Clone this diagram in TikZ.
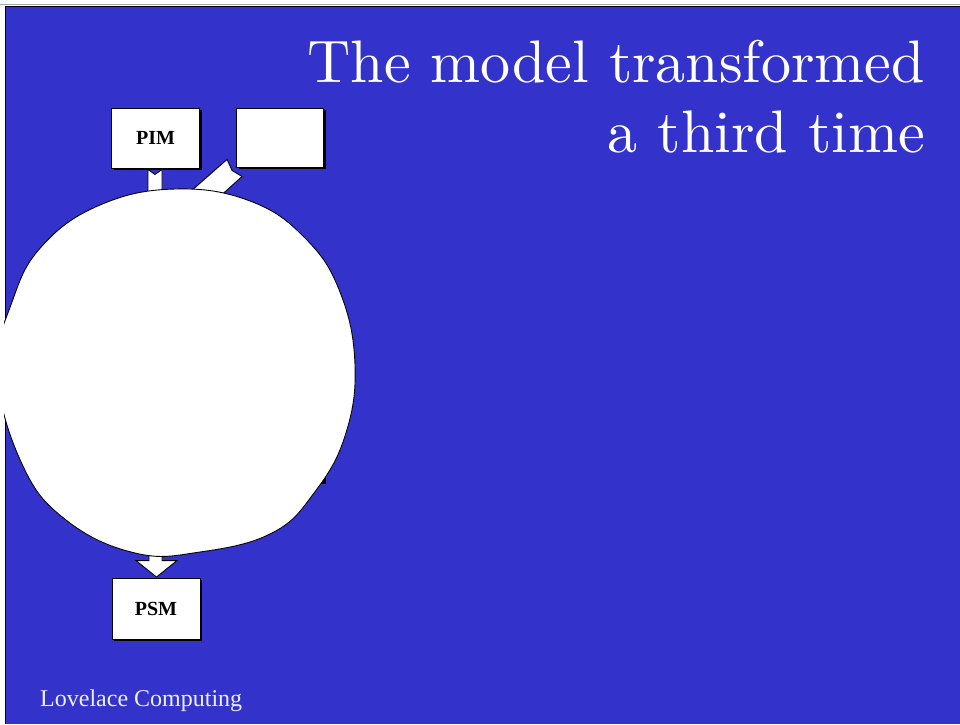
\documentclass[tikz,border=0pt]{standalone}
\usepackage{fontspec}
\newfontfamily\timesfont{Liberation Serif}
\newfontfamily\titlefont{lmroman10-regular}[Extension=.otf]
\usetikzlibrary{calc, shadows}

\definecolor{slideblue}{RGB}{51,51,204}
\definecolor{footwhite}{RGB}{238,238,250}

\tikzset{
    modelbox/.style={draw, fill=white, line width=0.9pt, inner sep=0pt,
        minimum width=88pt, minimum height=60pt,
        font=\timesfont\bfseries\fontsize{20}{20}\selectfont,
        drop shadow={shadow xshift=2pt, shadow yshift=-2pt, fill=black, opacity=1}},
    blockarrow/.style={draw, fill=white, line width=0.9pt, line join=miter}
}

\begin{document}
\begin{tikzpicture}[x=1pt, y=-1pt]
    \useasboundingbox (0, 0) rectangle (960, 724);

    % slide background and frame
    \fill[white] (0, 0) rectangle (960, 724);
    \fill[slideblue] (5, 6) rectangle (960, 724);
    \draw[gray!70, line width=0.8pt] (0, 4) -- (960, 4);
    \draw[black, line width=0.9pt] (5, 724) -- (5, 6) -- (960, 6);

    % boxes
    \node[modelbox] (pim) at (155.5, 138) {PIM};
    \node[modelbox, minimum width=87pt, minimum height=59pt] (blank) at (280, 137.5) {};
    \node[modelbox, minimum height=61pt] (psm) at (156, 608.5) {PSM};

    % box hidden behind the cloud
    \fill[black] (250, 400) rectangle (326, 484);

    % block arrows (ends hidden by the cloud)
    \draw[blockarrow] ($(pim.south)+(-7.5, 1)$) -- ($(pim.south)+(-7.5, 40)$)
        -- ($(pim.south)+(6.5, 40)$) -- ($(pim.south)+(6.5, 1)$)
        -- ($(pim.south)+(-0.5, 6)$) -- cycle;
    \draw[blockarrow] ($(blank.south west)+(-9, -8)$) -- ($(blank.south west)+(-4, 3)$)
        -- ($(blank.south west)+(6, 9)$) -- ($(blank.south west)+(-34, 45)$)
        -- ($(blank.south west)+(-50, 28)$) -- cycle;
    \draw[blockarrow] ($(psm.north)+(-7, -45)$) -- ($(psm.north)+(-7, -17)$)
        -- ($(psm.north)+(-20, -17)$) -- ($(psm.north)+(0.5, -0.5)$)
        -- ($(psm.north)+(21, -17)$) -- ($(psm.north)+(6, -17)$)
        -- ($(psm.north)+(6, -45)$) -- cycle;

    % the cloud
    \begin{scope}
        \clip (4, 0) rectangle (960, 724);
        \draw[fill=white, line width=0.9pt] plot[smooth cycle, tension=0.7] coordinates {
            (175, 189) (250, 201) (305, 238) (340, 292) (355, 365) (345, 436)
            (314, 493) (272, 533) (200, 552) (135, 553) (66, 520) (22, 464)
            (-3, 372) (12, 302) (42, 246) (100, 205)};
    \end{scope}

    % title
    \node[anchor=base east, text=white, font=\titlefont\fontsize{60}{70}\selectfont, inner sep=0pt]
        (title1) at (925, 82) {The model transformed};
    \node[anchor=base east, text=white, font=\titlefont\fontsize{60}{70}\selectfont, inner sep=0pt]
        (title2) at (925, 152) {a third time};

    % footer
    \node[anchor=base west, text=footwhite, font=\timesfont\fontsize{24}{24}\selectfont, inner sep=0pt]
        (footer) at (40, 706) {Lovelace Computing};
\end{tikzpicture}
\end{document}
